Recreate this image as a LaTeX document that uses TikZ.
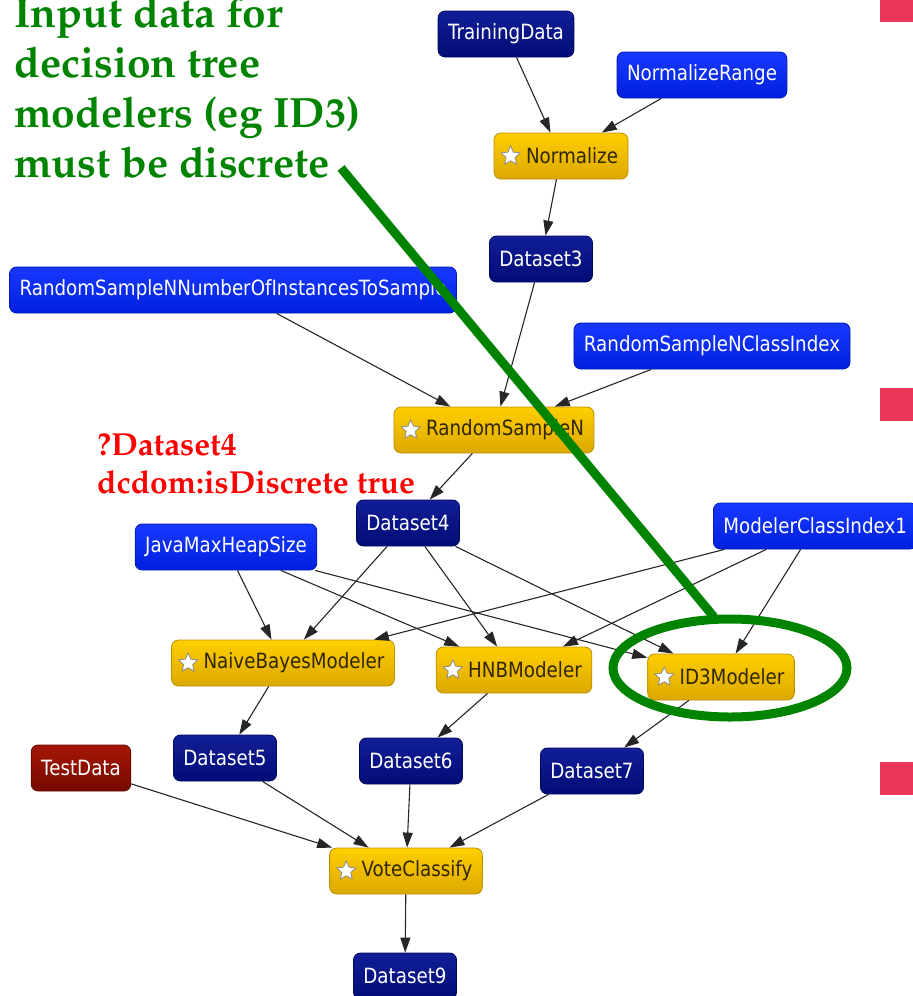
\documentclass[tikz,border=0pt]{standalone}
\usepackage[T1]{fontenc}
\usepackage{fontspec}
\usetikzlibrary{arrows.meta,shapes.geometric}

\newfontfamily\nodefont{DejaVu Sans}[FakeStretch=0.87]
\newcommand\pplbold{\fontencoding{T1}\fontfamily{ppl}\fontseries{b}\fontshape{n}\selectfont}

\definecolor{navyTop}{RGB}{18,30,150}
\definecolor{navyBot}{RGB}{0,12,118}
\definecolor{blueTop}{RGB}{24,56,255}
\definecolor{blueBot}{RGB}{0,32,222}
\definecolor{goldTop}{RGB}{255,206,0}
\definecolor{goldBot}{RGB}{220,168,0}
\definecolor{rustTop}{RGB}{165,22,4}
\definecolor{rustBot}{RGB}{118,10,0}
\definecolor{slideGreen}{RGB}{0,132,0}
\definecolor{bulletRed}{RGB}{236,56,88}
\definecolor{goldText}{RGB}{48,38,0}

\tikzset{
  box/.style={rounded corners=7pt, minimum height=46pt, inner xsep=10pt, inner ysep=0pt,
    font=\nodefont\fontsize{21}{21}\selectfont, line width=0.8pt},
  datanode/.style={box, draw=navyBot!80!black, top color=navyTop, bottom color=navyBot, text=white},
  paramnode/.style={box, draw=blueBot!80!black, top color=blueTop, bottom color=blueBot, text=white},
  % step boxes leave room for a small white star in front of the name
  stepnode/.style={box, draw=goldBot!85!black, top color=goldTop, bottom color=goldBot, text=goldText,
    execute at begin node=\hspace*{22pt}},
  staricon/.style={star, star points=5, star point ratio=2.1, minimum size=20pt, inner sep=0pt,
    fill=white, draw=black!45, line width=0.8pt},
  inputnode/.style={box, draw=rustBot!80!black, top color=rustTop, bottom color=rustBot, text=white},
  arr/.style={-{Triangle[length=15pt,width=10pt]}, line width=1.1pt, draw=black!85},
  note/.style={anchor=base west, align=left, inner sep=0pt},
}

\begin{document}
\begin{tikzpicture}[x=1pt,y=-1pt]
\useasboundingbox (0,0) rectangle (913,996);

% slide bullets
\fill[bulletRed] (880,0) rectangle (913,22);
\fill[bulletRed] (880,388) rectangle (913,421);
\fill[bulletRed] (880,762) rectangle (913,795);

% workflow nodes
\node[datanode]  (trn)   at (506,34)  {TrainingData};
\node[paramnode] (nrng)  at (702,75)  {NormalizeRange};
\node[stepnode]  (nrm)   at (561,156) {Normalize};
\node[datanode]  (ds3)   at (541,259) {Dataset3};
\node[paramnode] (rsnum) at (233,290) {RandomSampleNNumberOfInstancesToSample};
\node[paramnode] (rscls) at (712,346) {RandomSampleNClassIndex};
\node[stepnode]  (rsn)   at (494,430) {RandomSampleN};
\node[datanode]  (ds4)   at (408,523) {Dataset4};
\node[paramnode] (jvm)   at (226,547) {JavaMaxHeapSize};
\node[paramnode, anchor=west] (mci) at (713,526) {ModelerClassIndex1};
\node[stepnode]  (nbm)   at (283,663) {NaiveBayesModeler};
\node[stepnode]  (hnb)   at (514,670) {HNBModeler};
\node[stepnode]  (id3)   at (721,677) {ID3Modeler};
\node[inputnode] (tst)   at (81,768)  {TestData};
\node[datanode]  (ds5)   at (225,758) {Dataset5};
\node[datanode]  (ds6)   at (411,761) {Dataset6};
\node[datanode]  (ds7)   at (592,771) {Dataset7};
\node[stepnode]  (vote)  at (406,871) {VoteClassify};
\node[datanode]  (ds9)   at (405,976) {Dataset9};

% step icons
\node[staricon] (nrmstar)  at ([xshift=17pt]nrm.west)  {};
\node[staricon] (rsnstar)  at ([xshift=17pt]rsn.west)  {};
\node[staricon] (nbmstar)  at ([xshift=17pt]nbm.west)  {};
\node[staricon] (hnbstar)  at ([xshift=17pt]hnb.west)  {};
\node[staricon] (id3star)  at ([xshift=17pt]id3.west)  {};
\node[staricon] (votestar) at ([xshift=17pt]vote.west) {};

% data flow
\draw[arr] (trn) -- (nrm);
\draw[arr] (nrng) -- (nrm);
\draw[arr] (nrm) -- (ds3);
\draw[arr] (ds3) -- (rsn);
\draw[arr] (rsnum) -- (rsn);
\draw[arr] (rscls) -- (rsn);
\draw[arr] (rsn) -- (ds4);
\draw[arr] (jvm) -- (nbm);
\draw[arr] (jvm) -- (hnb);
\draw[arr] (jvm) -- (id3);
\draw[arr] (ds4) -- (nbm);
\draw[arr] (ds4) -- (hnb);
\draw[arr] (ds4) -- (id3);
\draw[arr] (mci) -- (nbm);
\draw[arr] (mci) -- (hnb);
\draw[arr] (mci) -- (id3);
\draw[arr] (nbm) -- (ds5);
\draw[arr] (hnb) -- (ds6);
\draw[arr] (id3) -- (ds7);
\draw[arr] (tst) -- (vote);
\draw[arr] (ds5) -- (vote);
\draw[arr] (ds6) -- (vote);
\draw[arr] (ds7) -- (vote);
\draw[arr] (vote) -- (ds9);

% annotations (base anchor sits on the last line)
\node[note, text=red, font=\pplbold\fontsize{31.8}{38}\selectfont] (cond) at (97,493)
  {?Dataset4\\dcdom:isDiscrete true};
\node[note, text=slideGreen, font=\pplbold\fontsize{42.4}{50}\selectfont] (remark) at (14,177)
  {Input data for\\decision tree\\modelers (eg ID3)\\must be discrete};

\node[draw=slideGreen, line width=9pt, ellipse, minimum width=234pt, minimum height=98pt,
  inner sep=0pt] (ring) at (730,668) {};
\coordinate (gs) at (341,168);
\coordinate (ge) at (714,617);
\draw[slideGreen, line width=9pt] (gs) -- (ge);
\end{tikzpicture}
\end{document}
